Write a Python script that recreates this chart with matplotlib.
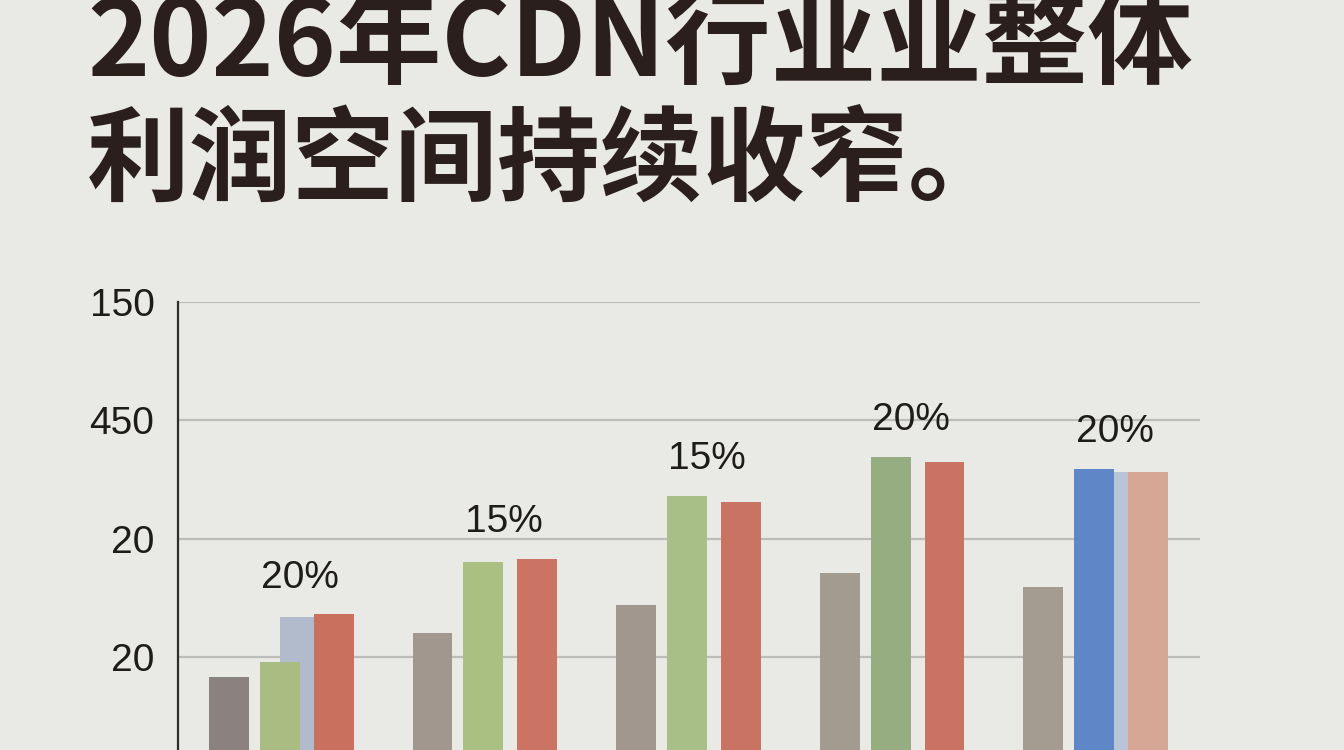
import matplotlib
matplotlib.use("Agg")
import matplotlib.pyplot as plt
import numpy as np

# ---- data ----
title_line1 = "2026年CDN行业业整体"
title_line2 = "利润空间持续收窄。"
tick_values = [1, 2, 3, 4]
tick_labels = ["20", "20", "450", "150"]
series_a = [0.83, 1.20, 1.44, 1.71, 1.59]          # brown bars
series_b = [0.96, 1.80, 2.36, 2.69, 2.59]          # green / blue bars
series_c = [1.36, 1.83, 2.31, 2.65, 2.56]          # red / salmon bars
series_d = [1.34, np.nan, np.nan, np.nan, 2.56]    # pale blue bars behind
pct_labels = ["20%", "15%", "15%", "20%", "20%"]

colors_a = ["#8b817e", "#a1978e", "#a1978e", "#a39a90", "#a49b91"]
colors_b = ["#a9bd82", "#aac083", "#a8bf88", "#95ad80", "#5f87c8"]
colors_c = ["#c9705e", "#cc7463", "#c97363", "#cb7363", "#d5a794"]
colors_d = ["#b2bbcb", "#b2bbcb", "#b2bbcb", "#b2bbcb", "#b8c5d9"]

bg = "#e9e9e6"
fig = plt.figure(figsize=(13.44, 7.5), dpi=100, facecolor=bg)
ax = fig.add_axes([178/1344, 0, (1200-178)/1344, 1-302/750])
ax.set_facecolor(bg)

x = np.arange(len(series_a))
w = 0.196
ax.bar(x + 0.10, series_d, w, color=colors_d, zorder=2)
ax.bar(x - 0.25, series_a, w, color=colors_a, zorder=3)
ax.bar(x, series_b, w, color=colors_b, zorder=3)
ax.bar(x + 0.265, series_c, w, color=colors_c, zorder=3)

for i, lab in enumerate(pct_labels):
    top = np.nanmax([series_a[i], series_b[i], series_c[i],
                     series_d[i] if not np.isnan(series_d[i]) else 0])
    ax.text(x[i] + 0.10, top + 0.31, lab, ha="center", va="center",
            fontsize=28, family="Liberation Sans", color="#1e1c1b")

ax.set_xlim(-0.50, 4.52)
ax.set_ylim(0.213, 4.0)
ax.set_yticks(tick_values)
ax.set_yticklabels(tick_labels, fontsize=28, family="Liberation Sans", color="#1e1c1b")
ax.set_xticks([])
ax.tick_params(axis="y", length=0, pad=17)
ax.yaxis.grid(True, color="#bcbcbb", linewidth=1.6, zorder=1)
ax.set_axisbelow(True)
for s in ["top", "right", "bottom"]:
    ax.spines[s].set_visible(False)
ax.spines["left"].set_color("#2f2d2c")
ax.spines["left"].set_linewidth(1.6)

fig.text(87/1344, 1-76/750, title_line1, ha="left", va="baseline",
         fontsize=76, fontweight="bold", color="#2a1f1c",
         family=["Noto Sans CJK SC", "DejaVu Sans"])
fig.text(87/1344, 1-193/750, title_line2, ha="left", va="baseline",
         fontsize=74, fontweight="bold", color="#2a1f1c",
         family=["Noto Sans CJK SC", "DejaVu Sans"])

fig.savefig("out.png", dpi=100, facecolor=bg)
